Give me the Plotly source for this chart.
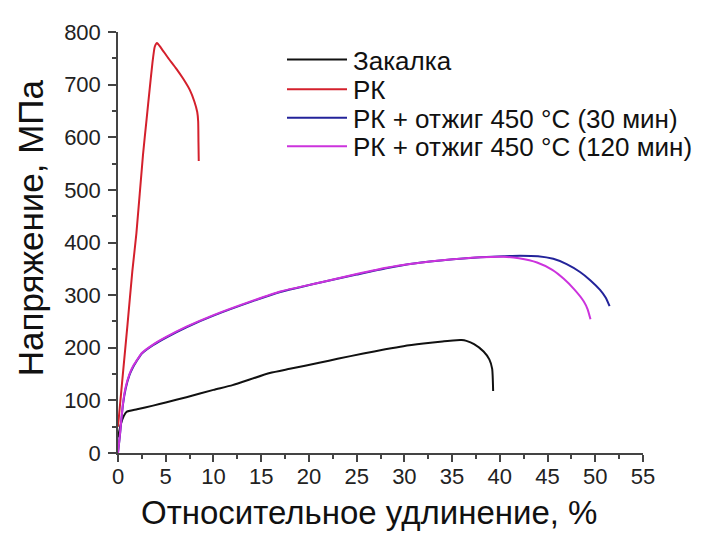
import plotly.graph_objects as go

# ---- data ----
zak_x = [0, 0.3, 0.6, 0.88, 2, 3.67, 5, 7.17, 10, 12, 15.9, 18, 21.2, 23, 25.7, 28, 29.9, 32, 34, 35.1, 36, 36.5, 37.3, 38.3, 38.9, 39.2, 39.3]
zak_y = [30, 55, 70, 78, 83, 90, 96, 106, 120, 129, 152, 160, 172, 179, 189, 197, 203, 208, 212, 214, 214.5, 213, 207, 193, 178, 160, 118]

rk_x = [0, 0.5, 1.0, 1.5, 1.93, 2.62, 3.0, 3.32, 3.6, 3.85, 4.09, 4.5, 5.2, 6.12, 6.8, 7.52, 8.0, 8.3, 8.4, 8.43, 8.46]
rk_y = [50, 148, 245, 345, 418, 567, 635, 692, 740, 772, 779, 770, 752, 730, 712, 690, 668, 648, 630, 590, 555]

a30_x = [0, 0.2, 0.52, 0.8, 1.2, 1.6, 1.93, 2.5, 3.67, 5, 7.17, 10, 14.2, 17, 21.2, 25, 28.1, 31, 35.1, 38, 40.4, 42.1, 44, 45.6, 47, 48.4, 49.5, 50.5, 51.1, 51.5]
a30_y = [0, 33, 92, 122, 148, 164, 174, 189, 205, 219, 239, 261, 289, 306, 324, 339, 351, 360, 368, 372, 374, 375, 374, 369, 359, 344, 328, 310, 295, 279]

a120_x = [0, 0.2, 0.52, 0.8, 1.2, 1.6, 1.93, 2.5, 3.67, 5, 7.17, 10, 14.2, 17, 21.2, 25, 28.1, 31, 35.1, 38, 40.4, 42, 43.9, 45.5, 46.7, 47.8, 48.8, 49.2, 49.5]
a120_y = [0, 35, 94, 125, 150, 166, 175, 190, 206, 220, 240, 262, 290, 307, 324, 340, 352, 360, 368, 372, 373, 370, 362, 348, 331, 311, 288, 273, 254]

names = ["Закалка", "РК", "РК + отжиг 450 °C (30 мин)", "РК + отжиг 450 °C (120 мин)"]
colors = ["#111111", "#d4202c", "#23239a", "#cc33dd"]
series = [(zak_x, zak_y), (rk_x, rk_y), (a30_x, a30_y), (a120_x, a120_y)]

x_title = "Относительное удлинение, %"
y_title = "Напряжение, МПа"

FONT = "Liberation Sans, Arial, sans-serif"
AX = "#444444"

fig = go.Figure()
for (xs, ys), n, c in zip(series, names, colors):
    fig.add_trace(go.Scatter(x=xs, y=ys, mode="lines", name=n,
                             line=dict(color=c, width=2, shape="spline", smoothing=0.5),
                             showlegend=False))

# page has an 8px body margin: the figure sits at (8, 8) in the window
OFF = 8
W, H = 696, 523
ml, mt = 118 - OFF, 26 - OFF
pw, ph = 525, 427
mr, mb = W - ml - pw, H - mt - ph

def px(x):
    return (x - OFF - ml) / pw

def py(y):
    return (mt + ph - (y - OFF)) / ph

fig.update_layout(
    width=W, height=H,
    margin=dict(l=ml, r=mr, t=mt, b=mb, pad=0),
    paper_bgcolor="white", plot_bgcolor="white",
    font=dict(family=FONT, color="#222222"),
    xaxis=dict(range=[0, 55], dtick=5, tick0=0, ticks="outside", ticklen=7, tickwidth=1.5,
               tickcolor=AX, showline=True, linecolor=AX, linewidth=1.5,
               showgrid=False, zeroline=False, tickfont=dict(size=22, family=FONT, color="#222"),
               minor=dict(ticks="outside", dtick=2.5, ticklen=4, tickwidth=1.5, tickcolor=AX, showgrid=False),
               ticklabelstandoff=-4),
    yaxis=dict(range=[0, 800], dtick=100, tick0=0, ticks="outside", ticklen=8, tickwidth=1.5,
               tickcolor=AX, showline=True, linecolor=AX, linewidth=1.5,
               showgrid=False, zeroline=False, tickfont=dict(size=22, family=FONT, color="#222"),
               minor=dict(ticks="outside", dtick=50, ticklen=4, tickwidth=1.5, tickcolor=AX, showgrid=False),
               ticklabelstandoff=3),
)

# axis titles
fig.add_annotation(text=x_title, xref="paper", yref="paper", x=px(369), y=py(513),
                   xanchor="center", yanchor="middle", showarrow=False, borderpad=0,
                   font=dict(size=33, family=FONT, color="#111"))
fig.add_annotation(text=y_title, xref="paper", yref="paper", x=px(30), y=py(225),
                   xanchor="center", yanchor="middle", showarrow=False, textangle=-90,
                   font=dict(size=35, family=FONT, color="#111"))

# manual legend
rows = [54, 84, 113, 142]
for n, c, ry in zip(names, colors, rows):
    fig.add_shape(type="line", xref="paper", yref="paper",
                  x0=px(287), x1=px(347), y0=py(ry), y1=py(ry),
                  line=dict(color=c, width=2))
    fig.add_annotation(text=n, xref="paper", yref="paper", x=px(352), y=py(ry + 1),
                       xanchor="left", yanchor="middle", showarrow=False, borderpad=0,
                       font=dict(size=26, family=FONT, color="#111"))

fig.write_html("out.html")
